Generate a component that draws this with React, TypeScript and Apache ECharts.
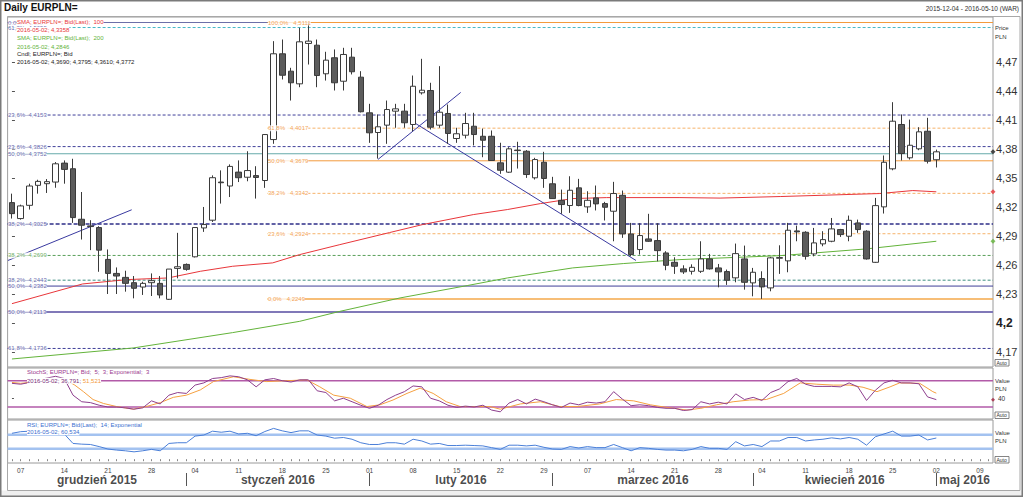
import React, { useEffect, useRef } from 'react';
import * as echarts from 'echarts';

const FONT = '"Liberation Sans", Arial, Helvetica, sans-serif';

// ---------- categories: trading days ----------
function buildDates(): string[] {
  const out: string[] = [];
  const d = new Date(Date.UTC(2015, 11, 4));
  const end = Date.UTC(2016, 4, 10);
  while (d.getTime() <= end) {
    const wd = d.getUTCDay();
    if (wd !== 0 && wd !== 6) out.push(d.toISOString().slice(0, 10));
    d.setUTCDate(d.getUTCDate() + 1);
  }
  return out;
}
const dates = buildDates();
const monthNames = ['grudzień 2015', 'styczeń 2016', 'luty 2016', 'marzec 2016', 'kwiecień 2016', 'maj 2016'];
const priceTicks = [4.17, 4.2, 4.23, 4.26, 4.29, 4.32, 4.35, 4.38, 4.41, 4.44, 4.47];

// ---------- candles ----------
const opens = [4.3246,4.3081,4.3218,4.3425,4.3442,4.3459,4.3655,4.3597,4.3074,4.3005,
4.2988,4.2658,4.2513,4.2472,4.2417,4.2372,4.2417,4.2410,4.2245,4.2565,
4.2606,4.2685,4.2984,4.3064,4.3459,4.3418,4.3562,4.3509,4.3526,4.3475,
4.3899,4.4787,4.4607,4.4476,4.4894,4.4876,4.4580,4.4746,4.4503,4.4752,
4.4545,4.4176,4.3972,4.4048,4.4193,4.4193,4.4055,4.4383,4.4407,4.4048,
4.4169,4.3910,4.3944,4.4037,4.3933,4.3933,4.3658,4.3561,4.3790,4.3778,
4.3503,4.3664,4.3441,4.3270,4.3216,4.3399,4.3202,4.3295,4.3236,4.3157,
4.3322,4.2922,4.2760,4.2870,4.2853,4.2725,4.2628,4.2560,4.2535,4.2535,
4.2663,4.2570,4.2532,4.2467,4.2663,4.2415,4.2460,4.2363,4.2670,4.2643,
4.2953,4.2939,4.2715,4.2819,4.2846,4.2967,4.2898,4.3036,4.2950,4.2628,
4.3202,4.3596,4.4055,4.3710,4.3803,4.3985,4.3690];
const highs = [4.3339,4.3225,4.3442,4.3483,4.3490,4.3666,4.3683,4.3700,4.3356,4.3064,
4.3002,4.2761,4.2575,4.2541,4.2486,4.2427,4.2513,4.2486,4.2558,4.2933,
4.2616,4.2988,4.3201,4.3528,4.3580,4.3642,4.3683,4.3778,4.3623,4.3955,
4.4918,4.4935,4.4642,4.5056,4.5111,4.4935,4.4808,4.4832,4.4849,4.4849,
4.4607,4.4269,4.4159,4.4303,4.4269,4.4269,4.4562,4.4735,4.4487,4.4659,
4.4262,4.4021,4.4176,4.4176,4.4013,4.3993,4.3866,4.3820,4.3876,4.3790,
4.3710,4.3772,4.3513,4.3381,4.3519,4.3492,4.3364,4.3423,4.3254,4.3461,
4.3371,4.3036,4.3032,4.3130,4.3032,4.2743,4.2680,4.2597,4.2607,4.2846,
4.2715,4.2611,4.2553,4.2822,4.2801,4.2570,4.2535,4.2684,4.2804,4.3036,
4.3008,4.2950,4.2984,4.2950,4.3087,4.2974,4.3112,4.3070,4.2960,4.3295,
4.3734,4.4286,4.4159,4.4106,4.4027,4.4124,4.3795];
const lows = [4.3081,4.3070,4.3174,4.3339,4.3346,4.3400,4.3442,4.3036,4.2864,4.2754,
4.2530,4.2300,4.2300,4.2324,4.2255,4.2290,4.2279,4.2255,4.2238,4.2462,
4.2541,4.2678,4.2943,4.3046,4.3236,4.3304,4.3459,4.3467,4.3288,4.3399,
4.3855,4.4521,4.4303,4.4441,4.4676,4.4441,4.4510,4.4407,4.4407,4.4573,
4.4180,4.3865,4.3702,4.3855,4.4021,4.4021,4.3985,4.4365,4.4003,4.4021,
4.3855,4.3865,4.3910,4.3838,4.3716,4.3682,4.3544,4.3554,4.3599,4.3502,
4.3485,4.3399,4.3288,4.3130,4.3140,4.3208,4.3140,4.3165,4.3061,4.2846,
4.2881,4.2690,4.2708,4.2840,4.2638,4.2546,4.2508,4.2508,4.2501,4.2518,
4.2553,4.2369,4.2394,4.2421,4.2345,4.2276,4.2249,4.2328,4.2508,4.2525,
4.2846,4.2656,4.2690,4.2794,4.2836,4.2891,4.2846,4.2933,4.2656,4.2622,
4.3133,4.3581,4.3682,4.3692,4.3789,4.3651,4.3610];
const closes = [4.3132,4.3212,4.3418,4.3466,4.3463,4.3648,4.3590,4.3091,4.3012,4.2998,
4.2754,4.2513,4.2486,4.2410,4.2359,4.2410,4.2438,4.2290,4.2558,4.2582,
4.2555,4.2988,4.3019,4.3504,4.3452,4.3621,4.3504,4.3578,4.3506,4.3951,
4.4787,4.4565,4.4487,4.4911,4.4918,4.4562,4.4721,4.4487,4.4780,4.4601,
4.4187,4.3969,4.4031,4.4210,4.4217,4.4073,4.4451,4.4410,4.4027,4.4182,
4.3962,4.3959,4.4065,4.3951,4.3892,4.3682,4.3581,4.3803,4.3785,4.3537,
4.3692,4.3496,4.3288,4.3226,4.3374,4.3216,4.3270,4.3233,4.3198,4.3340,
4.2922,4.2708,4.2905,4.2846,4.2749,4.2597,4.2587,4.2529,4.2576,4.2663,
4.2560,4.2529,4.2442,4.2718,4.2421,4.2525,4.2373,4.2674,4.2677,4.2960,
4.2943,4.2690,4.2829,4.2863,4.2974,4.2915,4.3063,4.2967,4.2663,4.3215,
4.3664,4.4089,4.3754,4.3840,4.3979,4.3675,4.3772];

// ---------- moving averages (readings: [day index, value]) ----------
const sma100 = [[0,4.2200],[8.1,4.2404],[13.2,4.2449],[17.9,4.2466],[21.6,4.2535],[25.3,4.2587],[29.9,4.2622],[33,4.2708],[37.6,4.2811],[43.3,4.2936],[47.1,4.3019],[52.9,4.3122],[56.8,4.3174],[60.6,4.3236],[64.3,4.3288],[68.2,4.3298],[76.6,4.3298],[81.2,4.3293],[88.1,4.3309],[99.5,4.3340],[103.3,4.3371],[106,4.3358]];
const sma200 = [[0,4.1627],[13.9,4.1741],[25.3,4.1900],[33,4.2017],[37.6,4.2120],[44.5,4.2259],[52.2,4.2387],[56.8,4.2466],[64.3,4.2570],[70.1,4.2615],[76.6,4.2656],[88.1,4.2697],[98,4.2767],[106,4.2846]];

// ---------- Fibonacci levels ----------
const navyLevels = [4.5111, 4.5059, 4.4153, 4.3826, 4.3752, 4.3025, 4.2699, 4.2443, 4.2382, 4.2113, 4.1736];
const navyPcts = ['0,0%', '61,8%', '23,6%', '23,6%', '50,0%', '38,2%', '38,2%', '38,2%', '50,0%', '50,0%', '61,8%'];
const orangeLevels = [4.5111, 4.4017, 4.3679, 4.3342, 4.2924, 4.2249];
const orangePcts = ['100,0%', '61,8%', '50,0%', '38,2%', '23,6%', '0,0%'];
const orangeStart = 29.3;

// ---------- trend lines ----------
const trendLines = [
  [[-0.46, 4.2647], [13.73, 4.3172]],
  [[41.97, 4.3693], [51.46, 4.4387]],
  [[46.1, 4.4076], [71.56, 4.2647]],
];

// ---------- oscillators ----------
const stochK = [74,72,76,82,86,90,85,47,32,30,
24,20,20,18,15,18,34,27,47,53,
51,70,75,85,87,91,89,82,66,82,
85,80,77,82,82,57,53,34,40,32,
24,17,24,37,47,55,68,66,40,34,
24,19,22,20,24,13,9,29,37,27,
38,32,25,19,29,25,31,29,32,55,
38,23,25,23,19,17,17,12,14,32,
27,31,27,50,37,42,35,53,61,78,
85,72,67,67,67,66,75,66,35,58,
75,81,75,75,73,43,36.791];
const stochD = [[0,76],[1,74],[4,80],[6,84],[7.2,70],[8.2,55],[9.3,37],[10.5,28],[12,21],[13.9,15],[15.4,21],[17,30],[18.5,42],[20,47],[21.6,59],[23.1,78],[25.4,89],[27.3,83],[29.2,78],[31.5,80],[33.8,82],[35.3,66],[36.9,47],[38.8,40],[40.7,21],[42.2,25],[43.7,36],[45.3,51],[46.8,63],[48.3,51],[49.8,32],[51.4,21],[52.9,21],[54.8,21],[56,15],[58.3,27],[60.6,32],[62.8,21],[64.8,21],[67.4,27],[69.3,37],[71.3,34],[73.2,25],[75.1,19],[77.4,13],[79,17],[80.8,25],[82.7,32],[84.6,36],[86.5,37],[88.5,51],[90.4,75],[92.3,72],[94.2,70],[96.1,70],[97.6,65],[99.2,55],[100.7,66],[101.8,75],[104.1,74],[105.6,55],[106,51.521]];
const stochLevels = [80, 20];
const rsi = [74,78.6,80,82,82,82,72,45,43,42,
36,29,26,24,21,24,28,24,45,47,
47,66,69,80,77,80,72,74,67,79,
88,81,76,81,81,69,66,60,62,57,
47,42,42,47,47,43,57,52,43,45,
39,39,40,39,38,33,28,40,40,38,
40,34,29,28,36,32,36,33,33,42,
33,24,33,31,28,26,26,24,28,36,
31,31,28,50,38,42,36,52,52,62,
62,52,55,57,61,58,62,57,40,64,
72,80,66,66,69,55,60.534];
const rsiLevels = [70, 30];

const fmt = (v: number, d = 4) => v.toFixed(d).replace('.', ',');

function buildOption(): any {
  const N = dates.length;
  const xMin = -0.5;
  const xMax = N - 0.5;
  const last = closes.length - 1;
  const lastDate = dates[last];
  const GL = 7.6;
  const GW = 985.4;

  const navyStyles = [
    { color: '#6b6fa8', type: 'solid', width: 1, text: '#3f3f99' },
    { color: '#45b8c8', type: [3, 2], width: 1, text: '#3f3f99' },
    { color: '#3f3f99', type: [3, 2], width: 1, text: '#3f3f99' },
    { color: '#3f3f99', type: [3, 2], width: 1, text: '#3f3f99' },
    { color: '#66aaaa', type: 'solid', width: 1, text: '#3f3f99' },
    { color: '#2e2e88', type: [4, 2], width: 1.6, text: '#3f3f99' },
    { color: '#5aa05a', type: [3, 2], width: 1, text: '#4e9a3e' },
    { color: '#3d8f80', type: [3, 2], width: 1, text: '#3f3f99' },
    { color: '#3f3f99', type: 'solid', width: 1, text: '#3f3f99' },
    { color: '#8078b8', type: 'solid', width: 2, text: '#3f3f99' },
    { color: '#3f3f99', type: [3, 2], width: 1, text: '#3f3f99' },
  ];
  const orangeStyles = [
    { color: '#f39a3c', type: 'solid', width: 1 },
    { color: '#f6b36b', type: [3, 2], width: 1 },
    { color: '#f39a3c', type: 'solid', width: 1 },
    { color: '#f6b36b', type: [3, 2], width: 1 },
    { color: '#f6b36b', type: [3, 2], width: 1 },
    { color: '#f5a84a', type: 'solid', width: 1.5 },
  ];

  const series: any[] = [];
  navyLevels.forEach((v, k) => {
    const s = navyStyles[k];
    series.push({
      type: 'line', xAxisIndex: 1, yAxisIndex: 0, silent: true, z: 1, symbol: 'none',
      data: [[xMin, v], [xMax, v]],
      lineStyle: { color: s.color, width: s.width, type: s.type },
    });
  });
  orangeLevels.forEach((v, k) => {
    const s = orangeStyles[k];
    series.push({
      type: 'line', xAxisIndex: 1, yAxisIndex: 0, silent: true, z: 1, symbol: 'none',
      data: [[orangeStart, v], [xMax, v]],
      lineStyle: { color: s.color, width: s.width, type: s.type },
    });
  });
  series.push({
    type: 'line', xAxisIndex: 1, yAxisIndex: 0, silent: true, z: 3, symbol: 'none',
    data: sma100, lineStyle: { color: '#e8363a', width: 1 },
  });
  series.push({
    type: 'line', xAxisIndex: 1, yAxisIndex: 0, silent: true, z: 3, symbol: 'none',
    data: sma200, lineStyle: { color: '#63b33a', width: 1 },
  });
  trendLines.forEach((tl) => {
    series.push({
      type: 'line', xAxisIndex: 1, yAxisIndex: 0, silent: true, z: 3, symbol: 'none',
      data: tl, lineStyle: { color: '#3a3aa0', width: 1 },
    });
  });
  series.push({
    type: 'candlestick', xAxisIndex: 0, yAxisIndex: 0, z: 5, barWidth: 6, silent: true,
    data: opens.map((o, i) => [o, closes[i], lows[i], highs[i]]),
    itemStyle: { color: '#ffffff', color0: '#5c5c5c', borderColor: '#3a3a3a', borderColor0: '#3a3a3a', borderWidth: 1 },
  });
  // level labels
  const labelBase = { show: true, position: 'right', distance: 0, fontSize: 6, fontFamily: FONT, backgroundColor: '#ffffff', padding: [0, 0] };
  series.push({
    type: 'scatter', xAxisIndex: 1, yAxisIndex: 0, z: 8, symbolSize: 0, silent: true, clip: false,
    data: [
      ...navyLevels.map((v, k) => ({
        value: [-0.45, v],
        label: { ...labelBase, color: navyStyles[k].text, formatter: `${navyPcts[k]}–${fmt(v)}` },
      })),
      ...orangeLevels.map((v, k) => ({
        value: [orangeStart + 0.06, v],
        label: { ...labelBase, color: '#f08c2c', formatter: `${orangePcts[k]}   ${fmt(v)}` },
      })),
    ],
  });
  // right-edge markers
  series.push({
    type: 'scatter', xAxisIndex: 1, yAxisIndex: 0, z: 9, symbol: 'diamond', symbolSize: 5, silent: true, clip: false,
    data: [
      { value: [xMax, sma100[sma100.length - 1][1]], itemStyle: { color: '#e8363a' } },
      { value: [xMax, sma200[sma200.length - 1][1]], itemStyle: { color: '#63b33a' } },
      { value: [xMax, closes[last]], itemStyle: { color: '#222222' } },
    ],
  });
  // stochastic
  stochLevels.forEach((v) => {
    series.push({
      type: 'line', xAxisIndex: 2, yAxisIndex: 1, silent: true, z: 1, symbol: 'none',
      data: [[xMin, v], [xMax, v]], lineStyle: { color: '#b25aa8', width: 1.5 },
    });
  });
  series.push({
    type: 'line', xAxisIndex: 2, yAxisIndex: 1, silent: true, z: 3, symbol: 'none',
    data: stochD, lineStyle: { color: '#f5a040', width: 1 },
  });
  series.push({
    type: 'line', xAxisIndex: 2, yAxisIndex: 1, silent: true, z: 4, symbol: 'none',
    data: stochK.map((v, i) => [i, v]), lineStyle: { color: '#8e3f8e', width: 1 },
  });
  series.push({
    type: 'scatter', xAxisIndex: 2, yAxisIndex: 1, z: 9, symbol: 'diamond', symbolSize: 4, silent: true, clip: false,
    data: [{ value: [xMax, stochK[last]], itemStyle: { color: '#a0203c' } }],
  });
  // RSI
  rsiLevels.forEach((v) => {
    series.push({
      type: 'line', xAxisIndex: 4, yAxisIndex: 2, silent: true, z: 1, symbol: 'none',
      data: [[xMin, v], [xMax, v]], lineStyle: { color: '#a3c2f0', width: 2.5 },
    });
  });
  series.push({
    type: 'line', xAxisIndex: 4, yAxisIndex: 2, silent: true, z: 3, symbol: 'none',
    data: rsi.map((v, i) => [i, v]), lineStyle: { color: '#4a7fd8', width: 1 },
  });
  // months
  const starts: number[] = [];
  for (let i = 1; i < N; i++) if (dates[i].slice(5, 7) !== dates[i - 1].slice(5, 7)) starts.push(i);
  const bounds = [xMin, ...starts, xMax];
  series.push({
    type: 'scatter', xAxisIndex: 5, yAxisIndex: 3, symbolSize: 1, silent: true, clip: false,
    itemStyle: { color: 'rgba(0,0,0,0)' },
    label: { show: true, position: 'inside', formatter: '{b}', fontSize: 12, fontWeight: 'bold', color: '#1a1a1a', fontFamily: FONT },
    data: monthNames.map((name, k) => ({ name, value: [(bounds[k] + bounds[k + 1]) / 2, 0] })),
    markLine: {
      silent: true, symbol: ['none', 'none'], label: { show: false },
      lineStyle: { color: '#555555', width: 1, type: 'solid' },
      data: starts.map((s) => ({ xAxis: s })),
    },
  });

  const hiddenValX = (g: number) => ({ gridIndex: g, type: 'value', min: xMin, max: xMax, show: false });
  const gridBase = { left: GL, width: GW, show: true, borderColor: '#9a9a9a', borderWidth: 1 };

  const txt = (x: number, y: number, text: string, fill: string, extra: any = {}) => ({
    type: 'text', x, y, z: 100, silent: true,
    style: {
      text, fill, fontSize: 6, fontFamily: FONT,
      align: 'left', textAlign: 'left', verticalAlign: 'middle', textVerticalAlign: 'middle',
      ...extra,
    },
  });
  const autoBox = (x: number, y: number) => ({
    type: 'group', x, y, z: 100, silent: true,
    children: [
      { type: 'rect', shape: { x: 0, y: 0, width: 14, height: 6.5 }, style: { fill: '#ffffff', stroke: '#666666', lineWidth: 0.8 } },
      { type: 'text', x: 1.5, y: 3.4, style: { text: 'Auto', fill: '#333', fontSize: 5, fontFamily: FONT, verticalAlign: 'middle', textVerticalAlign: 'middle' } },
    ],
  });

  const graphic = [
    { type: 'rect', z: 0, silent: true, shape: { x: 0, y: 490.5, width: 1023, height: 7 }, style: { fill: '#efefef' } },
    { type: 'rect', z: 0, silent: true, shape: { x: 7.5, y: 16.5, width: 1012.5, height: 474 }, style: { fill: 'none', stroke: '#a8a8a8', lineWidth: 1 } },
    { type: 'rect', z: 0, silent: true, shape: { x: 0.5, y: 0.5, width: 1022, height: 496 }, style: { fill: 'none', stroke: '#7a7a7a', lineWidth: 2 } },
    txt(4, 7.5, 'Daily EURPLN=', '#111', { fontSize: 10, fontWeight: 'bold' }),
    txt(1019, 8.5, `${dates[0]} - ${dates[N - 1]} (WAR)`, '#333', { fontSize: 6.5, align: 'right', textAlign: 'right' }),
    txt(17, 21.7, 'SMA; EURPLN=; Bid(Last);  100', '#e8363a', { backgroundColor: '#fff' }),
    txt(17, 30, `${lastDate}; ${fmt(sma100[sma100.length - 1][1])}`, '#e8363a', { backgroundColor: '#fff' }),
    txt(17, 38.3, 'SMA; EURPLN=; Bid(Last);  200', '#63b33a', { backgroundColor: '#fff' }),
    txt(17, 46.7, `${lastDate}; ${fmt(sma200[sma200.length - 1][1])}`, '#63b33a', { backgroundColor: '#fff' }),
    txt(17, 54.3, 'Cndl; EURPLN=; Bid', '#222', { backgroundColor: '#fff' }),
    txt(17, 62.3, `${lastDate}; ${fmt(opens[last])}; ${fmt(highs[last])}; ${fmt(lows[last])}; ${fmt(closes[last])}`, '#222', { backgroundColor: '#fff' }),
    txt(995, 28.3, 'Price', '#333'),
    txt(995, 36.7, 'PLN', '#333'),
    autoBox(995, 359.5),
    txt(27, 372.3, 'StochS; EURPLN=; Bid;  5;  3; Exponential;  3', '#9b3b8f'),
    {
      type: 'text', x: 27, y: 380.7, z: 100, silent: true,
      style: {
        text: `{a|${lastDate}; ${fmt(stochK[last], 3)};} {b|${fmt(stochD[stochD.length - 1][1], 3)}}`,
        fontSize: 6, fontFamily: FONT, backgroundColor: '#fff',
        verticalAlign: 'middle', textVerticalAlign: 'middle',
        rich: { a: { fill: '#7a2f7a', color: '#7a2f7a', fontSize: 6, fontFamily: FONT }, b: { fill: '#f39a3a', color: '#f39a3a', fontSize: 6, fontFamily: FONT } },
      },
    },
    txt(995, 380.7, 'Value', '#333'),
    txt(995, 389.3, 'PLN', '#333'),
    autoBox(995, 412),
    txt(27, 424.7, 'RSI; EURPLN=; Bid(Last);  14; Exponential', '#3c6fd0'),
    txt(27, 432.3, `${lastDate}; ${fmt(rsi[last], 3)}`, '#3c6fd0', { backgroundColor: '#fff' }),
    txt(995, 432.7, 'Value', '#333'),
    txt(995, 441.3, 'PLN', '#333'),
    autoBox(995, 456.5),
  ];

  return {
    animation: false,
    backgroundColor: '#ffffff',
    textStyle: { fontFamily: FONT },
    grid: [
      { ...gridBase, top: 17, height: 350 },
      { ...gridBase, top: 368, height: 51 },
      { ...gridBase, top: 420, height: 43 },
      { left: GL, width: GW, top: 473, height: 13, show: false },
    ],
    xAxis: [
      { gridIndex: 0, type: 'category', data: dates, boundaryGap: true, show: false },
      hiddenValX(0),
      hiddenValX(1),
      {
        gridIndex: 2, type: 'category', data: dates, boundaryGap: true,
        axisLine: { show: false },
        splitLine: { show: false },
        axisTick: { show: true, interval: 0, alignWithLabel: true, length: 2, lineStyle: { color: '#888888' } },
        axisLabel: {
          interval: (_i: number, v: string) => new Date(v + 'T00:00:00Z').getUTCDay() === 1,
          formatter: (v: string) => v.slice(8, 10),
          fontSize: 6.5, color: '#444444', margin: 4, fontFamily: FONT,
        },
      },
      hiddenValX(2),
      hiddenValX(3),
    ],
    yAxis: [
      {
        gridIndex: 0, type: 'value', position: 'right', min: 4.1544, max: 4.5168,
        splitLine: { show: false }, axisLine: { show: false },
        axisTick: { show: true, customValues: priceTicks, length: 3, lineStyle: { color: '#555555' } },
        axisLabel: {
          customValues: priceTicks, fontSize: 11, color: '#333333', margin: 3, fontFamily: FONT,
          formatter: (v: number) => {
            const s = String(Number(v.toFixed(2))).replace('.', ',');
            return s === '4,2' ? '{b|4,2}' : s;
          },
          rich: { b: { fontWeight: 'bold', fontSize: 12, color: '#222222', fontFamily: FONT } },
        },
      },
      {
        gridIndex: 1, type: 'value', position: 'right', min: -7.4, max: 109,
        splitLine: { show: false }, axisLine: { show: false },
        axisTick: { show: true, customValues: [40], length: 2, lineStyle: { color: '#555555' } },
        axisLabel: { customValues: [40], fontSize: 6.5, color: '#333333', margin: 5, fontFamily: FONT },
      },
      {
        gridIndex: 2, type: 'value', position: 'right', min: -10.9, max: 112,
        splitLine: { show: false }, axisLine: { show: false }, axisTick: { show: false }, axisLabel: { show: false },
      },
      { gridIndex: 3, type: 'value', min: -1, max: 1, show: false },
    ],
    series,
    graphic,
  };
}

export default function App() {
  const ref = useRef<HTMLDivElement>(null);
  useEffect(() => {
    if (!ref.current) return;
    const chart = echarts.init(ref.current, undefined, { renderer: 'svg' });
    chart.setOption(buildOption());
    return () => chart.dispose();
  }, []);
  return (
    <div
      ref={ref}
      style={{ position: 'fixed', left: 0, top: 0, width: 1023, height: 497, background: '#ffffff' }}
    />
  );
}
